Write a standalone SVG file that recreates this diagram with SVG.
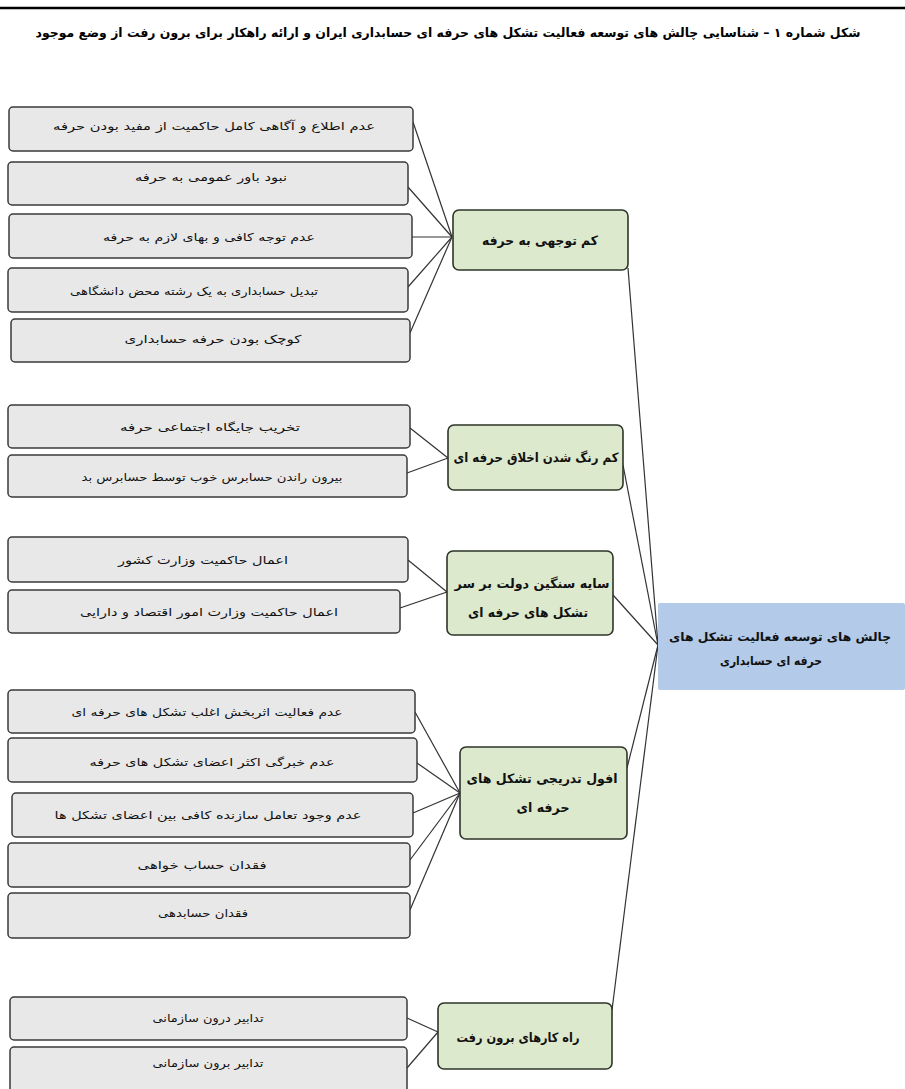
<svg xmlns="http://www.w3.org/2000/svg" width="905" height="1089" viewBox="0 0 905 1089">
<style>
text{font-family:"DejaVu Sans",sans-serif;direction:rtl;text-anchor:middle;dominant-baseline:central;fill:#111}
.leaf rect{fill:#e8e8e8;stroke:#3a3a3a;stroke-width:1.5}
.leaf text{font-size:11px}
.mid rect{fill:#dde9cd;stroke:#2e3529;stroke-width:1.6}
.mid text{font-size:13px;font-weight:bold}
.root rect{fill:#b3cbe8}
.root text{font-size:12px;font-weight:bold}
.title{font-size:12.5px;font-weight:bold;fill:#000}
#connectors line{stroke:#333;stroke-width:1.2}
</style>
<rect width="905" height="1089" fill="#fff"/>
<line x1="0" y1="8" x2="905" y2="8" stroke="#000" stroke-width="2.5"/>
<text class="title" x="448" y="32" textLength="825" lengthAdjust="spacingAndGlyphs">شکل شماره ۱ – شناسایی چالش های توسعه فعالیت تشکل های حرفه ای حسابداری ایران و ارائه راهکار برای برون رفت از وضع موجود</text>

<g id="connectors">
<line x1="413" y1="122" x2="452" y2="237"/>
<line x1="408" y1="187" x2="452" y2="237"/>
<line x1="412" y1="237" x2="452" y2="237"/>
<line x1="408" y1="287" x2="452" y2="237"/>
<line x1="410" y1="333" x2="452" y2="237"/>
<line x1="410" y1="428" x2="448" y2="458"/>
<line x1="407" y1="473" x2="448" y2="458"/>
<line x1="408" y1="560" x2="447" y2="592"/>
<line x1="400" y1="608" x2="447" y2="592"/>
<line x1="415" y1="712" x2="460" y2="793"/>
<line x1="417" y1="763" x2="460" y2="793"/>
<line x1="413" y1="813" x2="460" y2="793"/>
<line x1="410" y1="860" x2="460" y2="793"/>
<line x1="410" y1="910" x2="460" y2="793"/>
<line x1="407" y1="1018" x2="438" y2="1032"/>
<line x1="407" y1="1068" x2="438" y2="1032"/>
<line x1="628" y1="268" x2="658" y2="645"/>
<line x1="623" y1="465" x2="658" y2="645"/>
<line x1="613" y1="595" x2="658" y2="645"/>
<line x1="627" y1="768" x2="658" y2="645"/>
<line x1="612" y1="1010" x2="658" y2="645"/>
</g>

<g id="leaf1" class="leaf"><rect x="9" y="107" width="404" height="44" rx="4"/><text x="214" y="126" textLength="322" lengthAdjust="spacingAndGlyphs">عدم اطلاع و آگاهی کامل حاکمیت از مفید بودن حرفه</text></g>
<g id="leaf2" class="leaf"><rect x="8" y="162" width="400" height="43" rx="4"/><text x="211" y="177" textLength="152" lengthAdjust="spacingAndGlyphs">نبود باور عمومی به حرفه</text></g>
<g id="leaf3" class="leaf"><rect x="9" y="214" width="403" height="44" rx="4"/><text x="209" y="237" textLength="212" lengthAdjust="spacingAndGlyphs">عدم توجه کافی و بهای لازم به حرفه</text></g>
<g id="leaf4" class="leaf"><rect x="8" y="268" width="400" height="44" rx="4"/><text x="194" y="291" textLength="248" lengthAdjust="spacingAndGlyphs">تبدیل حسابداری به یک رشته محض دانشگاهی</text></g>
<g id="leaf5" class="leaf"><rect x="11" y="319" width="399" height="43" rx="4"/><text x="213" y="339" textLength="177" lengthAdjust="spacingAndGlyphs">کوچک بودن حرفه حسابداری</text></g>

<g id="leaf6" class="leaf"><rect x="8" y="405" width="402" height="43" rx="4"/><text x="210" y="427" textLength="180" lengthAdjust="spacingAndGlyphs">تخریب جایگاه اجتماعی حرفه</text></g>
<g id="leaf7" class="leaf"><rect x="8" y="455" width="399" height="42" rx="4"/><text x="212" y="477" textLength="261" lengthAdjust="spacingAndGlyphs">بیرون راندن حسابرس خوب توسط حسابرس بد</text></g>

<g id="leaf8" class="leaf"><rect x="8" y="537" width="400" height="45" rx="4"/><text x="203" y="560" textLength="170" lengthAdjust="spacingAndGlyphs">اعمال حاکمیت وزارت کشور</text></g>
<g id="leaf9" class="leaf"><rect x="8" y="590" width="392" height="43" rx="4"/><text x="209" y="612" textLength="258" lengthAdjust="spacingAndGlyphs">اعمال حاکمیت وزارت امور اقتصاد و دارایی</text></g>

<g id="leaf10" class="leaf"><rect x="8" y="690" width="407" height="43" rx="4"/><text x="207" y="712" textLength="271" lengthAdjust="spacingAndGlyphs">عدم فعالیت اثربخش اغلب تشکل های حرفه ای</text></g>
<g id="leaf11" class="leaf"><rect x="8" y="738" width="409" height="44" rx="4"/><text x="212" y="762" textLength="245" lengthAdjust="spacingAndGlyphs">عدم خبرگی اکثر اعضای تشکل های حرفه</text></g>
<g id="leaf12" class="leaf"><rect x="12" y="793" width="401" height="44" rx="4"/><text x="208" y="815" textLength="307" lengthAdjust="spacingAndGlyphs">عدم وجود تعامل سازنده کافی بین اعضای تشکل ها</text></g>
<g id="leaf13" class="leaf"><rect x="8" y="843" width="402" height="44" rx="4"/><text x="202" y="865" textLength="129" lengthAdjust="spacingAndGlyphs">فقدان حساب خواهی</text></g>
<g id="leaf14" class="leaf"><rect x="8" y="893" width="402" height="45" rx="4"/><text x="203" y="913" textLength="90" lengthAdjust="spacingAndGlyphs">فقدان حسابدهی</text></g>

<g id="leaf15" class="leaf"><rect x="10" y="997" width="397" height="43" rx="4"/><text x="208" y="1018" textLength="111" lengthAdjust="spacingAndGlyphs">تدابیر درون سازمانی</text></g>
<g id="leaf16" class="leaf"><rect x="10" y="1047" width="397" height="50" rx="4"/><text x="208" y="1063" textLength="111" lengthAdjust="spacingAndGlyphs">تدابیر برون سازمانی</text></g>

<g id="mid1" class="mid"><rect x="453" y="210" width="175" height="60" rx="6"/><text x="540" y="240" textLength="116" lengthAdjust="spacingAndGlyphs">کم توجهی به حرفه</text></g>
<g id="mid2" class="mid"><rect x="448" y="425" width="175" height="65" rx="6"/><text x="536" y="457" textLength="165" lengthAdjust="spacingAndGlyphs">کم رنگ شدن اخلاق حرفه ای</text></g>
<g id="mid3" class="mid"><rect x="447" y="551" width="166" height="84" rx="6"/><text x="532" y="583" textLength="155" lengthAdjust="spacingAndGlyphs">سایه سنگین دولت بر سر</text><text x="528" y="612" textLength="120" lengthAdjust="spacingAndGlyphs">تشکل های حرفه ای</text></g>
<g id="mid4" class="mid"><rect x="460" y="747" width="167" height="92" rx="6"/><text x="542" y="778" textLength="151" lengthAdjust="spacingAndGlyphs">افول تدریجی تشکل های</text><text x="543" y="807" textLength="53" lengthAdjust="spacingAndGlyphs">حرفه ای</text></g>
<g id="mid5" class="mid"><rect x="438" y="1003" width="174" height="66" rx="6"/><text x="518" y="1037" textLength="123" lengthAdjust="spacingAndGlyphs">راه کارهای برون رفت</text></g>

<g id="root" class="root"><rect x="658" y="603" width="247" height="87" rx="2"/><text x="780" y="637" textLength="222" lengthAdjust="spacingAndGlyphs">چالش های توسعه فعالیت تشکل های</text><text x="771" y="661" textLength="102" lengthAdjust="spacingAndGlyphs">حرفه ای حسابداری</text></g>
</svg>
